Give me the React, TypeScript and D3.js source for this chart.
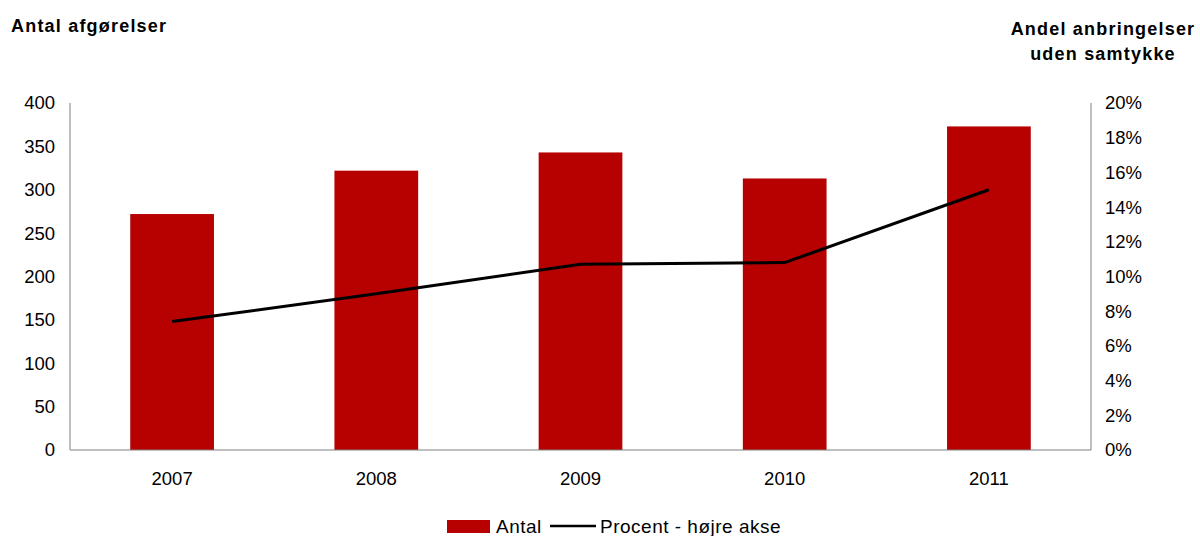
import React from "react";
import * as d3 from "d3";

const years = ["2007", "2008", "2009", "2010", "2011"];
const antal = [272, 322, 343, 313, 373];
const procent = [7.4, 9.0, 10.7, 10.8, 15.0];
const leftTicks = [0, 50, 100, 150, 200, 250, 300, 350, 400];
const rightTicks = [0, 2, 4, 6, 8, 10, 12, 14, 16, 18, 20];

export default function App() {
  const W = 1200, H = 536;
  const x0 = 70, x1 = 1091, yTop = 103, yBot = 450;
  const x = d3.scaleBand().domain(years).range([x0, x1]).paddingInner(0.59).paddingOuter(0.295);
  const yL = d3.scaleLinear().domain([0, 400]).range([yBot, yTop]);
  const yR = d3.scaleLinear().domain([0, 20]).range([yBot, yTop]);
  const cx = (d: string) => (x(d) as number) + x.bandwidth() / 2;
  const line = d3.line<number>().x((_, i) => cx(years[i])).y((d) => yR(d));
  const font = "Liberation Sans, Arial, sans-serif";
  const fs = 18.5;
  return (
    <svg width={W} height={H} style={{ position: "absolute", left: 0, top: 0 }} fontFamily={font}>
      <rect width={W} height={H} fill="#fff" />
      <text x={11} y={32} fontSize={18} fontWeight="bold" letterSpacing={1.2}>Antal afgørelser</text>
      <text x={1103} y={35} fontSize={18} fontWeight="bold" textAnchor="middle" letterSpacing={1.2}>Andel anbringelser</text>
      <text x={1103} y={60} fontSize={18} fontWeight="bold" textAnchor="middle" letterSpacing={1.2}>uden samtykke</text>
      {years.map((d, i) => (
        <rect key={d} x={x(d)} y={yL(antal[i])} width={x.bandwidth()} height={yBot - yL(antal[i])} fill="#B70000" />
      ))}
      <line x1={x0} x2={x0} y1={yTop} y2={yBot} stroke="#808080" />
      <line x1={x1} x2={x1} y1={yTop} y2={yBot} stroke="#808080" />
      <line x1={x0} x2={x1} y1={yBot} y2={yBot} stroke="#808080" />
      {leftTicks.map((t) => (
        <text key={t} x={55} y={yL(t)} dy="0.35em" fontSize={fs} textAnchor="end">{t}</text>
      ))}
      {rightTicks.map((t) => (
        <text key={t} x={1105} y={yR(t)} dy="0.35em" fontSize={fs}>{t}%</text>
      ))}
      {years.map((d) => (
        <text key={d} x={cx(d)} y={479} dy="0.35em" fontSize={fs} textAnchor="middle">{d}</text>
      ))}
      <path d={line(procent) as string} fill="none" stroke="#000" strokeWidth={3} />
      <rect x={447} y={520} width={43} height={13} fill="#B70000" />
      <text x={496} y={526} dy="0.35em" fontSize={19} letterSpacing={0.5}>Antal</text>
      <line x1={550} x2={596} y1={526} y2={526} stroke="#000" strokeWidth={2.5} />
      <text x={600} y={526} dy="0.35em" fontSize={19} letterSpacing={0.5}>Procent - højre akse</text>
    </svg>
  );
}
